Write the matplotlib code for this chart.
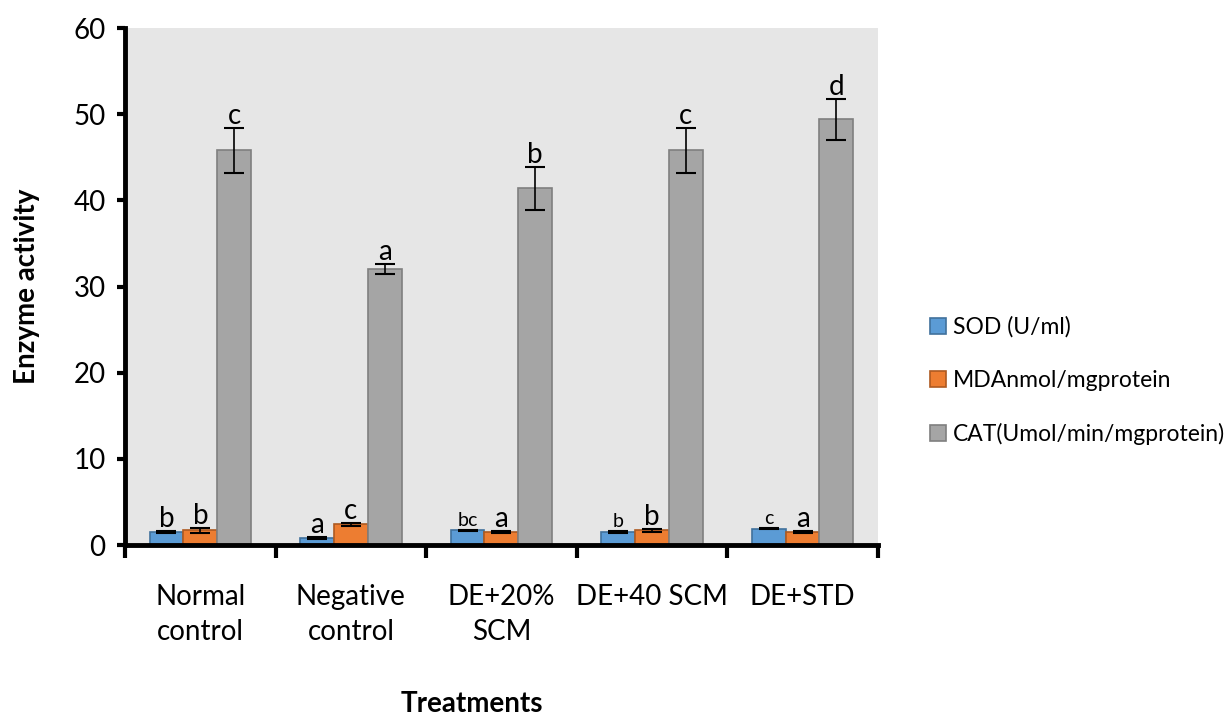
import numpy as np
import matplotlib
matplotlib.use('Agg')
import matplotlib.pyplot as plt

# datos
treatments = ['Normal\ncontrol', 'Negative\ncontrol', 'DE+20%\nSCM', 'DE+40 SCM', 'DE+STD']
series = ['SOD (U/ml)', 'MDAnmol/mgprotein', 'CAT(Umol/min/mgprotein)']
sod = [1.5, 0.8, 1.7, 1.5, 1.9]
mda = [1.7, 2.4, 1.55, 1.7, 1.5]
cat = [45.8, 32.0, 41.4, 45.8, 49.4]
sod_err = [0.1, 0.15, 0.05, 0.15, 0.08]
mda_err = [0.25, 0.15, 0.1, 0.15, 0.15]
cat_err = [2.6, 0.6, 2.5, 2.6, 2.4]
sod_let = ['b', 'a', 'bc', 'b', 'c']
mda_let = ['b', 'c', 'a', 'b', 'a']
cat_let = ['c', 'a', 'b', 'c', 'd']

plt.rcParams['font.family'] = ['Lato', 'DejaVu Sans']

fig = plt.figure(figsize=(12.26, 7.2), dpi=100)
ax = fig.add_axes([0.102, 0.243, 0.614, 0.718])
ax.set_facecolor('#e6e6e6')

colores = ['#5b9bd5', '#ed7d31', '#a5a5a5']
bordes = ['#41719c', '#ae5a21', '#7f7f7f']
valores = [sod, mda, cat]
errores = [sod_err, mda_err, cat_err]
letras = [sod_let, mda_let, cat_let]
# letras chicas en el original
chicas = {(0, 2), (0, 3), (0, 4)}

x = np.arange(len(treatments)) + 0.5
w = 0.225
for k in range(3):
    xs = x + (k - 1) * w
    ax.bar(xs, valores[k], w, color=colores[k], edgecolor=bordes[k], linewidth=1.2,
           label=series[k], zorder=2)
    ax.errorbar(xs, valores[k], yerr=errores[k], fmt='none', ecolor='black',
                elinewidth=1.2, capsize=7, capthick=1.5, zorder=3)
    for i in range(len(treatments)):
        fs = 14 if (k, i) in chicas else 20
        ax.text(xs[i], valores[k][i] + errores[k][i] + 0.45, letras[k][i],
                ha='center', va='baseline', fontsize=fs, zorder=4)

ax.set_xlim(0, 5)
ax.set_ylim(0, 60)
ax.set_yticks(range(0, 61, 10))
ax.tick_params(axis='y', labelsize=20, width=3, length=6, direction='out', pad=8)

# ticks mayores en los limites de grupo, etiquetas en los centros
ax.set_xticks(np.arange(0, 6))
ax.set_xticklabels([])
ax.set_xticks(x, minor=True)
ax.set_xticklabels(treatments, minor=True, fontsize=20, linespacing=1.45)
ax.tick_params(axis='x', which='major', width=3, length=9, direction='out')
ax.tick_params(axis='x', which='minor', length=0, pad=28)

for s in ['top', 'right']:
    ax.spines[s].set_visible(False)
for s in ['left', 'bottom']:
    ax.spines[s].set_linewidth(3.5)

ax.set_ylabel('Enzyme activity', fontsize=20, fontweight='bold', labelpad=24)
fig.text(0.385, 0.004, 'Treatments', fontsize=20, fontweight='bold', ha='center', va='bottom')

ax.legend(loc='center left', bbox_to_anchor=(1.069, 0.318), frameon=False, fontsize=16.5,
          borderpad=0, borderaxespad=0,
          handlelength=0.7, handleheight=0.7, handletextpad=0.3, labelspacing=1.4)

fig.savefig('out.png', dpi=100)
